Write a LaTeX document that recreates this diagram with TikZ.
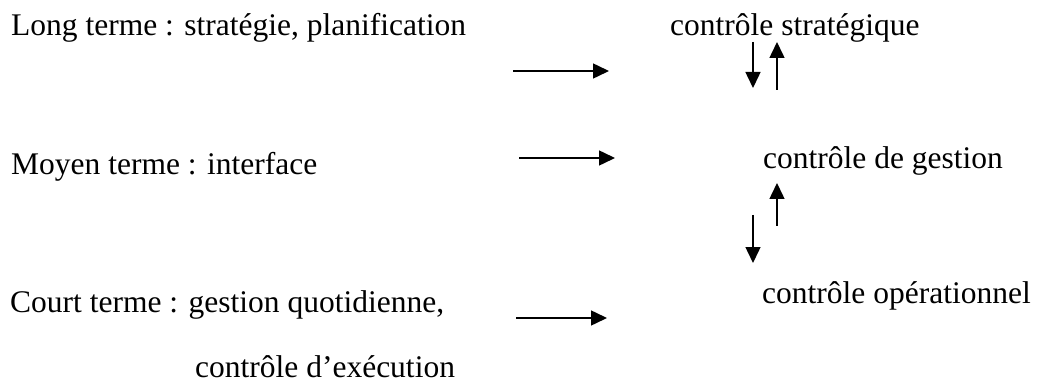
\documentclass[tikz,border=0pt]{standalone}
\usepackage{fontspec}
\setmainfont{Liberation Serif}
\usetikzlibrary{arrows.meta}
\begin{document}
\begin{tikzpicture}[x=1pt,y=-1pt,
  lbl/.style={anchor=base west,inner sep=0pt,font=\fontsize{31.5}{38}\selectfont},
  arr/.style={line width=1.5pt,-{Triangle[length=16pt,width=15pt]}}]
\useasboundingbox (0,0) rectangle (1037,385);
% left column
\node[lbl] (lt) at (11,36) {Long terme : stratégie, planification};
\node[lbl] (mt) at (11,175) {Moyen terme : interface};
\node[lbl] (ct) at (10,312) {Court terme : gestion quotidienne,};
\node[lbl] (ce) at (195,377) {contrôle d’exécution};
% right column
\node[lbl] (cs) at (670,36) {contrôle stratégique};
\node[lbl] (cg) at (763,169) {contrôle de gestion};
\node[lbl] (co) at (762,303) {contrôle opérationnel};
% horizontal arrows
\coordinate (h1a) at (513,71); \coordinate (h1b) at (609,71);
\coordinate (h2a) at (519,158); \coordinate (h2b) at (615,158);
\coordinate (h3a) at (516,318); \coordinate (h3b) at (607,318);
\draw[arr] (h1a) -- (h1b);
\draw[arr] (h2a) -- (h2b);
\draw[arr] (h3a) -- (h3b);
% vertical arrows
\coordinate (v1a) at (753,42); \coordinate (v1b) at (753,88);
\coordinate (v2a) at (777,90); \coordinate (v2b) at (777,42);
\coordinate (v3a) at (777,226); \coordinate (v3b) at (777,183);
\coordinate (v4a) at (753,215); \coordinate (v4b) at (753,263);
\draw[arr] (v1a) -- (v1b);
\draw[arr] (v2a) -- (v2b);
\draw[arr] (v3a) -- (v3b);
\draw[arr] (v4a) -- (v4b);
\end{tikzpicture}
\end{document}
